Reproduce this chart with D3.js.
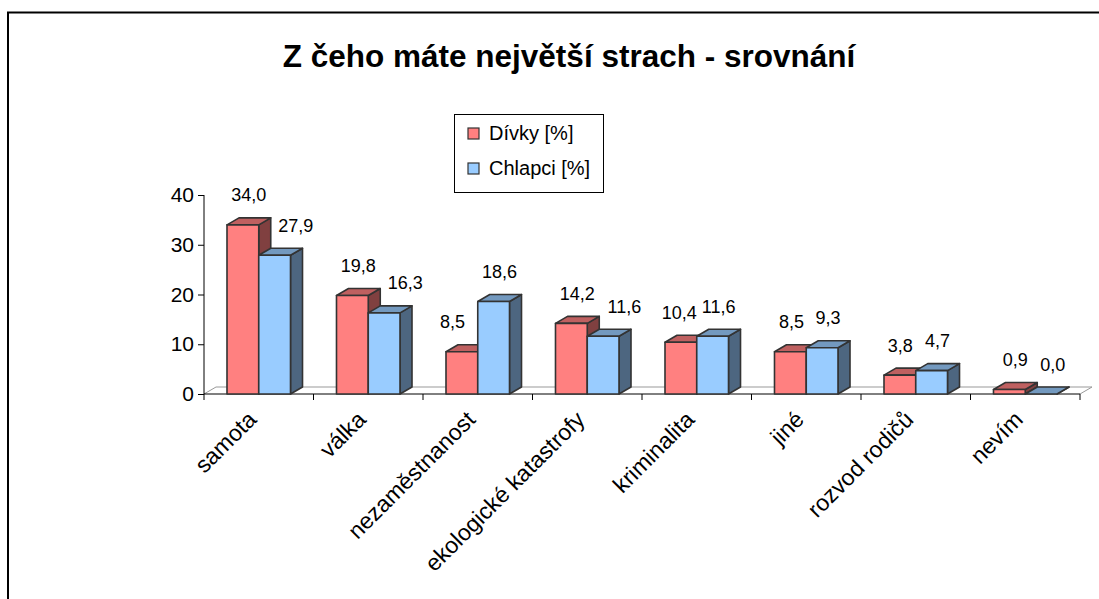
<!DOCTYPE html>
<html>
<head>
<meta charset="utf-8">
<script src="https://cdn.jsdelivr.net/npm/d3@7"></script>
<style>
  html, body { margin: 0; padding: 0; background: #fff; }
  svg { display: block; font-family: "Liberation Sans", Arial, sans-serif; }
</style>
</head>
<body>
<div id="chart"></div>
<script>
const title = 'Z čeho máte největší strach - srovnání';
const categories = ['samota', 'válka', 'nezaměstnanost', 'ekologické katastrofy',
  'kriminalita', 'jiné', 'rozvod rodičů', 'nevím'];
const seriesNames = ['Dívky [%]', 'Chlapci [%]'];
const divky   = [34.0, 19.8, 8.5, 14.2, 10.4, 8.5, 3.8, 0.9];
const chlapci = [27.9, 16.3, 18.6, 11.6, 11.6, 9.3, 4.7, 0.0];
const yTicks = [0, 10, 20, 30, 40];

const W = 1099, H = 599;
const plot = { left: 204, right: 1080, top: 195, bottom: 394 };
const depth = { dx: 12, dy: -7 };

// front / top / side shades per series
const colors = [
  { front: '#ff8080', top: '#bf6060', side: '#804040' },
  { front: '#99ccff', top: '#7399bf', side: '#4d6680' }
];
const edge = '#333';
const fmt = v => d3.format('.1f')(v).replace('.', ',');

const svg = d3.select('#chart').append('svg')
  .attr('width', W).attr('height', H);

// outer frame (right/bottom edges fall outside the picture)
svg.append('rect')
  .attr('x', 8).attr('y', 12.5)
  .attr('width', W + 20).attr('height', H + 20)
  .attr('fill', '#fff').attr('stroke', '#000').attr('stroke-width', 2);

svg.append('text')
  .attr('x', 569).attr('y', 67)
  .attr('text-anchor', 'middle')
  .attr('font-size', 31.5).attr('font-weight', 'bold')
  .text(title);

const x = d3.scaleBand().domain(categories).range([plot.left, plot.right]);
const bw = x.bandwidth();
const xs = d3.scaleBand().domain(seriesNames).range([bw * 0.21, bw * 0.79]);
const y = d3.scaleLinear().domain([0, 40]).range([plot.bottom, plot.top]);

// floor back edge
svg.append('path')
  .attr('fill', 'none').attr('stroke', '#999').attr('stroke-width', 1)
  .attr('d', d3.line()([
    [plot.left, plot.bottom],
    [plot.left + depth.dx, plot.bottom + depth.dy],
    [plot.right + depth.dx, plot.bottom + depth.dy],
    [plot.right, plot.bottom]
  ]));

// axes
const yAxis = svg.append('g')
  .attr('transform', `translate(${plot.left},0)`)
  .call(d3.axisLeft(y).tickValues(yTicks).tickSize(6).tickPadding(4).tickFormat(d3.format('d')));
yAxis.selectAll('text').attr('font-size', 21).attr('fill', '#000')
  .attr('font-family', '"Liberation Sans", Arial, sans-serif');
yAxis.selectAll('line, path').attr('stroke', '#000');
yAxis.select('.domain').attr('d', `M0,${plot.top}V${plot.bottom}`);

const xAxis = svg.append('g')
  .attr('transform', `translate(0,${plot.bottom})`);
xAxis.append('line')
  .attr('x1', plot.left).attr('x2', plot.right)
  .attr('stroke', '#000');
xAxis.selectAll('line.tick')
  .data(categories.concat([null]))
  .join('line')
  .attr('class', 'tick')
  .attr('x1', (d, i) => plot.left + i * bw).attr('x2', (d, i) => plot.left + i * bw)
  .attr('y1', 0).attr('y2', 6)
  .attr('stroke', '#000');

svg.append('g').selectAll('text')
  .data(categories)
  .join('text')
  .attr('transform', d => `translate(${x(d) + bw / 2 - 1},${plot.bottom + 27}) rotate(-45)`)
  .attr('text-anchor', 'end')
  .attr('font-size', 23)
  .text(d => d);

// bars
const data = [divky, chlapci];
const barsG = svg.append('g');
categories.forEach((cat, i) => {
  data.forEach((vals, s) => {
    const v = vals[i];
    const x0 = x(cat) + xs(seriesNames[s]);
    const x1 = x0 + xs.bandwidth();
    const yt = y(v), yb = y(0);
    const c = colors[s];
    const g = barsG.append('g')
      .attr('stroke', edge).attr('stroke-width', 1.6).attr('stroke-linejoin', 'round');
    // side
    g.append('path').attr('fill', c.side).attr('d', d3.line()([
      [x1, yb], [x1 + depth.dx, yb + depth.dy], [x1 + depth.dx, yt + depth.dy], [x1, yt]
    ]) + 'Z');
    // top
    g.append('path').attr('fill', c.top).attr('d', d3.line()([
      [x0, yt], [x0 + depth.dx, yt + depth.dy], [x1 + depth.dx, yt + depth.dy], [x1, yt]
    ]) + 'Z');
    // front
    g.append('rect')
      .attr('x', x0).attr('y', yt)
      .attr('width', x1 - x0).attr('height', yb - yt)
      .attr('fill', c.front);
  });
});

// value labels: higher bar label sits over its top, the lower one is pushed aside
const labelsG = svg.append('g').attr('font-size', 18).attr('text-anchor', 'middle');
categories.forEach((cat, i) => {
  const a = divky[i], b = chlapci[i];
  const cx = s => x(cat) + xs(seriesNames[s]) + xs.bandwidth() / 2;
  const sep = Math.min(47, 31 + Math.abs(a - b) * 7);
  let lx;
  if (a >= b) {
    lx = [cx(0) + 6, cx(0) + 6 + sep];
  } else {
    lx = [cx(1) + 6 - sep, cx(1) + 6];
  }
  [a, b].forEach((v, s) => {
    labelsG.append('text')
      .attr('x', lx[s])
      .attr('y', y(v) + depth.dy - 16.5)
      .text(fmt(v));
  });
});

// legend
const leg = svg.append('g');
leg.append('rect')
  .attr('x', 454.5).attr('y', 114.5).attr('width', 149).attr('height', 78)
  .attr('fill', '#fff').attr('stroke', '#000');
seriesNames.forEach((name, s) => {
  const yy = 128 + s * 35;
  leg.append('rect')
    .attr('x', 468).attr('y', yy).attr('width', 11).attr('height', 11)
    .attr('fill', colors[s].front).attr('stroke', edge).attr('stroke-width', 1.2);
  leg.append('text')
    .attr('x', 489).attr('y', yy + 11.5)
    .attr('font-size', 20)
    .text(name);
});
</script>
</body>
</html>
